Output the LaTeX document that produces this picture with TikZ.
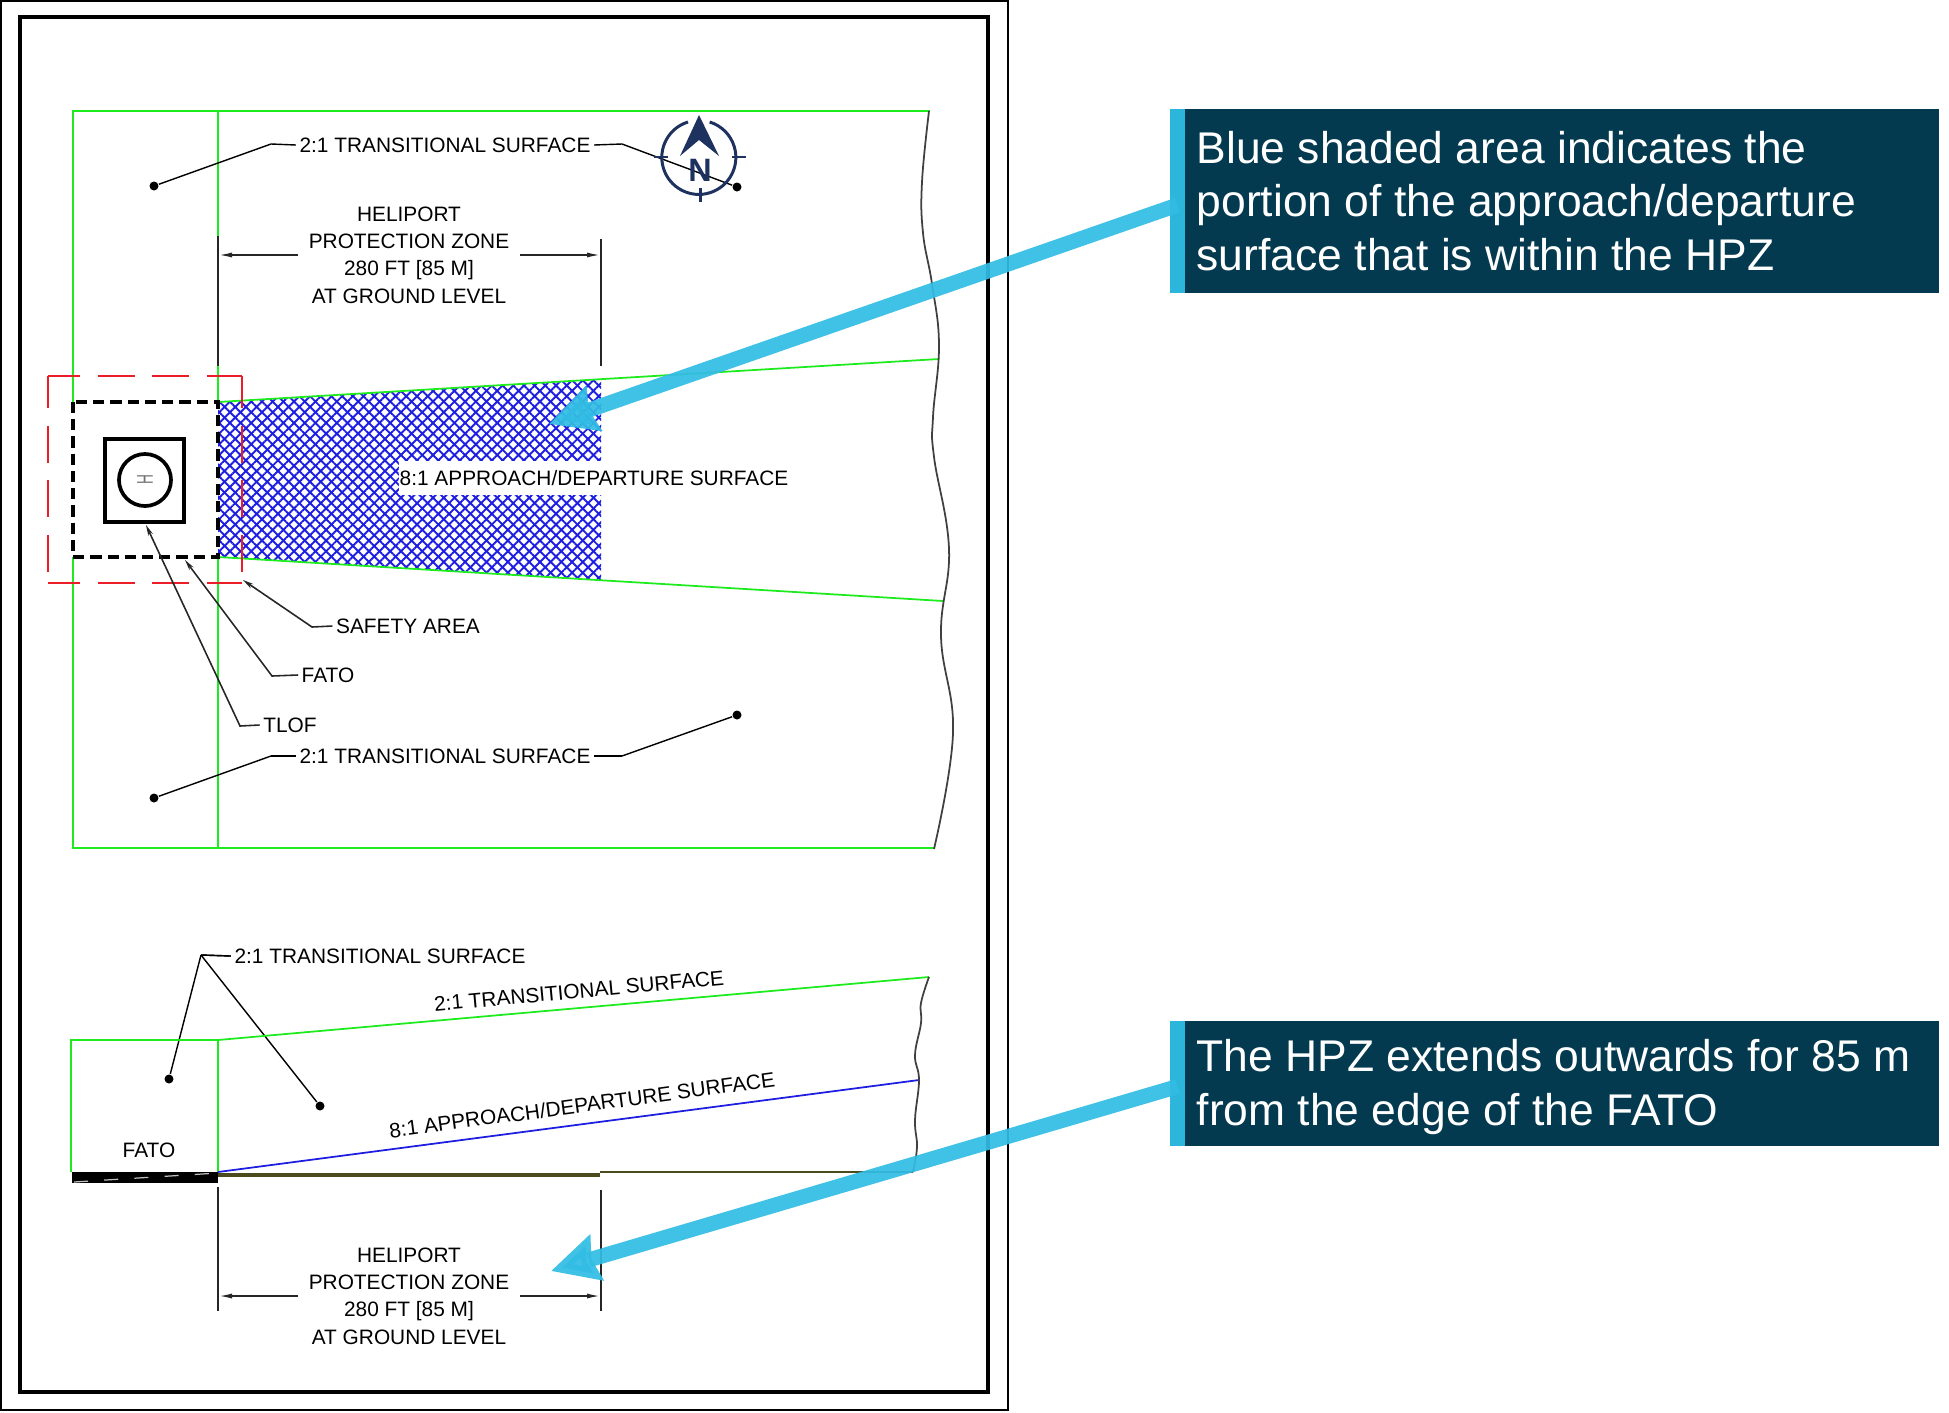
\documentclass[tikz,border=0pt]{standalone}
\usepackage{fontspec}
\setmainfont{Liberation Sans}
\usetikzlibrary{arrows.meta,patterns.meta,calc}
\definecolor{surfgreen}{RGB}{30,235,30}
\definecolor{hatchblue}{RGB}{30,30,225}
\definecolor{safetyred}{RGB}{235,30,40}
\definecolor{compassnavy}{RGB}{30,50,95}
\definecolor{calloutdark}{RGB}{4,58,80}
\definecolor{calloutbar}{RGB}{45,182,220}
\definecolor{calloutarrow}{RGB}{50,188,228}
\definecolor{groundolive}{RGB}{75,75,30}
\begin{document}
\begin{tikzpicture}
[x=0.01cm,y=-0.01cm,
  labeldecorate/.style={inner sep=0.03cm,font=\fontsize{5.93}{7.8}\selectfont},%
  dimdecorate/.style={labeldecorate,align=center,inner sep=0.1cm},%
  dotdecorate/.style={shape=circle,fill=black,inner sep=0pt,minimum size=0.09cm},%
  greenline/.style={surfgreen,line width=0.7pt},%
  slopeline/.style={surfgreen,line width=0.5pt},%
  breakline/.style={black!75,line width=0.5pt},%
  leaderdecorate/.style={black!85,line width=0.45pt},%
  tipdecorate/.style={leaderdecorate,-{Stealth[length=0.11cm,width=0.05cm]}},%
  dimline/.style={black!85,line width=0.5pt,-{Latex[length=0.14cm,width=0.05cm]}},%
  extline/.style={black!85,line width=0.6pt},%
  barnode/.style={fill=calloutbar,inner sep=0pt,minimum width=0.15cm},%
  darknode/.style={fill=calloutdark,inner sep=0pt},%
  notetext/.style={text=white,align=left,anchor=west,inner sep=0pt,font=\fontsize{12.63}{15.25}\selectfont},%
  calloutline/.style={calloutarrow,opacity=0.93,line width=0.15cm,-{Stealth[length=0.47cm,width=0.46cm,inset=0.05cm]}}]
\useasboundingbox (0,0) rectangle (1949,1412);
%% sheet frames
\draw[black,line width=0.6pt] (1,1) rectangle (1008,1410);
\draw[black,line width=1.3pt] (20,17) rectangle (988,1392);
%% plan view surfaces
\foreach \hatchangle in {45,-45} {
  \fill[pattern={Lines[angle=\hatchangle,distance=2.15pt,line width=0.55pt]},pattern color=hatchblue]
    (218,402) -- (601,379) -- (601,580) -- (218,557) -- cycle;
}
\draw[greenline] (73,402) -- (73,111) -- (930,111);
\draw[greenline] (73,557) -- (73,848) -- (934,848);
\foreach \ystart/\yend in {111/236, 363/402, 557/848} {
  \draw[greenline] (218,\ystart) -- (218,\yend);
}
\draw[slopeline] (218,402) -- (939,359);
\draw[slopeline] (218,557) -- (943,601);
\draw[breakline] plot[smooth,tension=0.7] coordinates {(929,111) (922,182) (923,233) (932,284)
  (939,345) (933,417) (934,457) (949,549) (941,636) (953,733) (934,849)};
%% heliport markings
\foreach \xa/\ya/\xb/\yb in {48/376/242/376, 48/583/242/583, 48/376/48/583, 242/376/242/583} {
  \draw[safetyred,line width=0.8pt,dash pattern=on 10.5pt off 5pt,dash phase=1.4pt] (\xa,\ya) -- (\xb,\yb);
}
\draw[black,line width=1.2pt,dash pattern=on 3.2pt off 1.7pt] (73,402) rectangle (218,557);
\draw[black,line width=1.1pt] (105,439) rectangle (184,522);
\node[draw=black,line width=1.05pt,shape=circle,inner sep=0pt,minimum size=0.52cm] (tlofring) at (145,480) {};
\node[rotate=90,xscale=0.6,text=black!55,inner sep=0pt,font=\fontsize{6.5}{7}\selectfont] (tlofmark) at (145,480) {H};
%% plan view labels
\node[labeldecorate,fill=white,inner xsep=0.01cm,minimum height=0.33cm] (appr) at (594,478) {8:1 APPROACH/DEPARTURE SURFACE};
\foreach \nodename/\x/\y/\labeltext in {
  transtop/445/145/2:1 TRANSITIONAL SURFACE, transbot/445/756/2:1 TRANSITIONAL SURFACE,
  translow/380/956/2:1 TRANSITIONAL SURFACE, safety/408/626/SAFETY AREA,
  fato/328/675/FATO, tlof/290/725/TLOF, fatolow/149/1150/FATO}
{
  \node (\nodename) at (\x,\y) [labeldecorate] {\labeltext};
}
%% dots and elbows
\foreach \nodename/\x/\y in {
  dota/154/186, dotb/737/187, dotc/154/798, dotd/737/715, dote/169/1079, dotf/320/1106}
{
  \node (\nodename) at (\x,\y) [dotdecorate] {};
}
\foreach \nodename/\x/\y in {
  elba/271/144, elbb/622/144, elbc/271/756, elbd/622/756, elbe/201/955,
  elbs/312/627, elbf/272/676, elbt/240/726,
  tips/243/580, tipf/185/560, tipt/146/525}
{
  \coordinate (\nodename) at (\x,\y);
}
%% leaders
\path
\foreach \labelname/\sidename/\elbowname/\dotname in {
  transtop/west/elba/dota, transtop/east/elbb/dotb, transbot/west/elbc/dotc, transbot/east/elbd/dotd,
  translow/west/elbe/dote, translow/west/elbe/dotf}
{
  [leaderdecorate] (\labelname.\sidename) edge (\elbowname) (\elbowname) edge (\dotname)
};
\draw[tipdecorate] (safety.west) -- (elbs) -- (tips);
\draw[tipdecorate] (fato.west) -- (elbf) -- (tipf);
\draw[tipdecorate] (tlof.west) -- (elbt) -- (tipt);
%% north arrow
\draw[compassnavy,line width=0.85pt] (688,122) arc[start angle=107,end angle=433,radius=0.37cm];
\foreach \xa/\ya/\xb/\yb in {654/157/668/157, 732/157/746/157, 700/188/700/202} {
  \draw[compassnavy,line width=0.85pt] (\xa,\ya) -- (\xb,\yb);
}
\fill[compassnavy] (699,115) -- (719,156) -- (699,140) -- (680,156) -- cycle;
\node[text=compassnavy,inner sep=0pt,font=\fontsize{9.2}{10}\selectfont\bfseries] (northmark) at (700,170) {N};
%% profile view
\fill[black] (72,1172) rectangle (218,1183);
\draw[black!25,line width=0.35pt,dash pattern=on 4pt off 4.6pt] (74,1182) -- (218,1173);
\draw[greenline] (218,1172) -- (218,1040) -- (71,1040) -- (71,1172);
\draw[slopeline] (218,1040) -- (929,977);
\draw[hatchblue,line width=0.5pt] (218,1172) -- (919,1080);
\draw[groundolive,line width=1.1pt] (218,1175) -- (600,1175);
\draw[groundolive,line width=0.45pt] (600,1172) -- (913,1172);
\draw[breakline] plot[smooth,tension=0.7] coordinates {(929,977) (921,1003) (921,1023) (915,1055)
  (919,1080) (915,1120) (917,1147) (913,1172)};
\node[labeldecorate,rotate=5.3] (sideTrans) at (579,991) {2:1 TRANSITIONAL SURFACE};
\node[labeldecorate,rotate=7.6] (sideAppr) at (582,1105) {8:1 APPROACH/DEPARTURE SURFACE};
%% protection zone dimensions
\foreach \nodename/\ycentre/\ytop/\ybot in {hpztop/255/236/366, hpzlow/1296/1187/1311}
{
  \node (\nodename) at (409,\ycentre) [dimdecorate] {HELIPORT\\PROTECTION ZONE\\280 FT [85 M]\\AT GROUND LEVEL};
  \coordinate (\nodename left) at (218,\ycentre);
  \coordinate (\nodename right) at (601,\ycentre);
  \draw[extline] (218,\ytop) -- (\nodename left) -- (218,\ybot);
  \draw[extline] (601,\ytop+3) -- (\nodename right) -- (601,\ybot);
  \draw[dimline] (\nodename.west) -- (\nodename left);
  \draw[dimline] (\nodename.east) -- (\nodename right);
}
%% callouts
\foreach \nodename/\ycentre/\boxheight in {noteone/201/1.84, notetwo/1083.5/1.25}
{
  \node[darknode,minimum width=7.54cm,minimum height=\boxheight cm] (\nodename box) at (1562,\ycentre) {};
  \node[barnode,minimum height=\boxheight cm] (\nodename bar) at (1177.5,\ycentre) {};
}
\node[notetext] (noteonetext) at (1196,201) {Blue shaded area indicates the\\portion of the approach/departure\\surface that is within the HPZ};
\node[notetext] (notetwotext) at (1196,1087) {The HPZ extends outwards for 85 m\\from the edge of the FATO};
\coordinate (blueend) at (549,424);
\coordinate (profileend) at (551,1271);
\draw[calloutline] ([yshift=-0.04cm]noteonebar.center) -- (blueend);
\draw[calloutline] ([yshift=-0.03cm]notetwobar.center) -- (profileend);
\end{tikzpicture}
\end{document}
